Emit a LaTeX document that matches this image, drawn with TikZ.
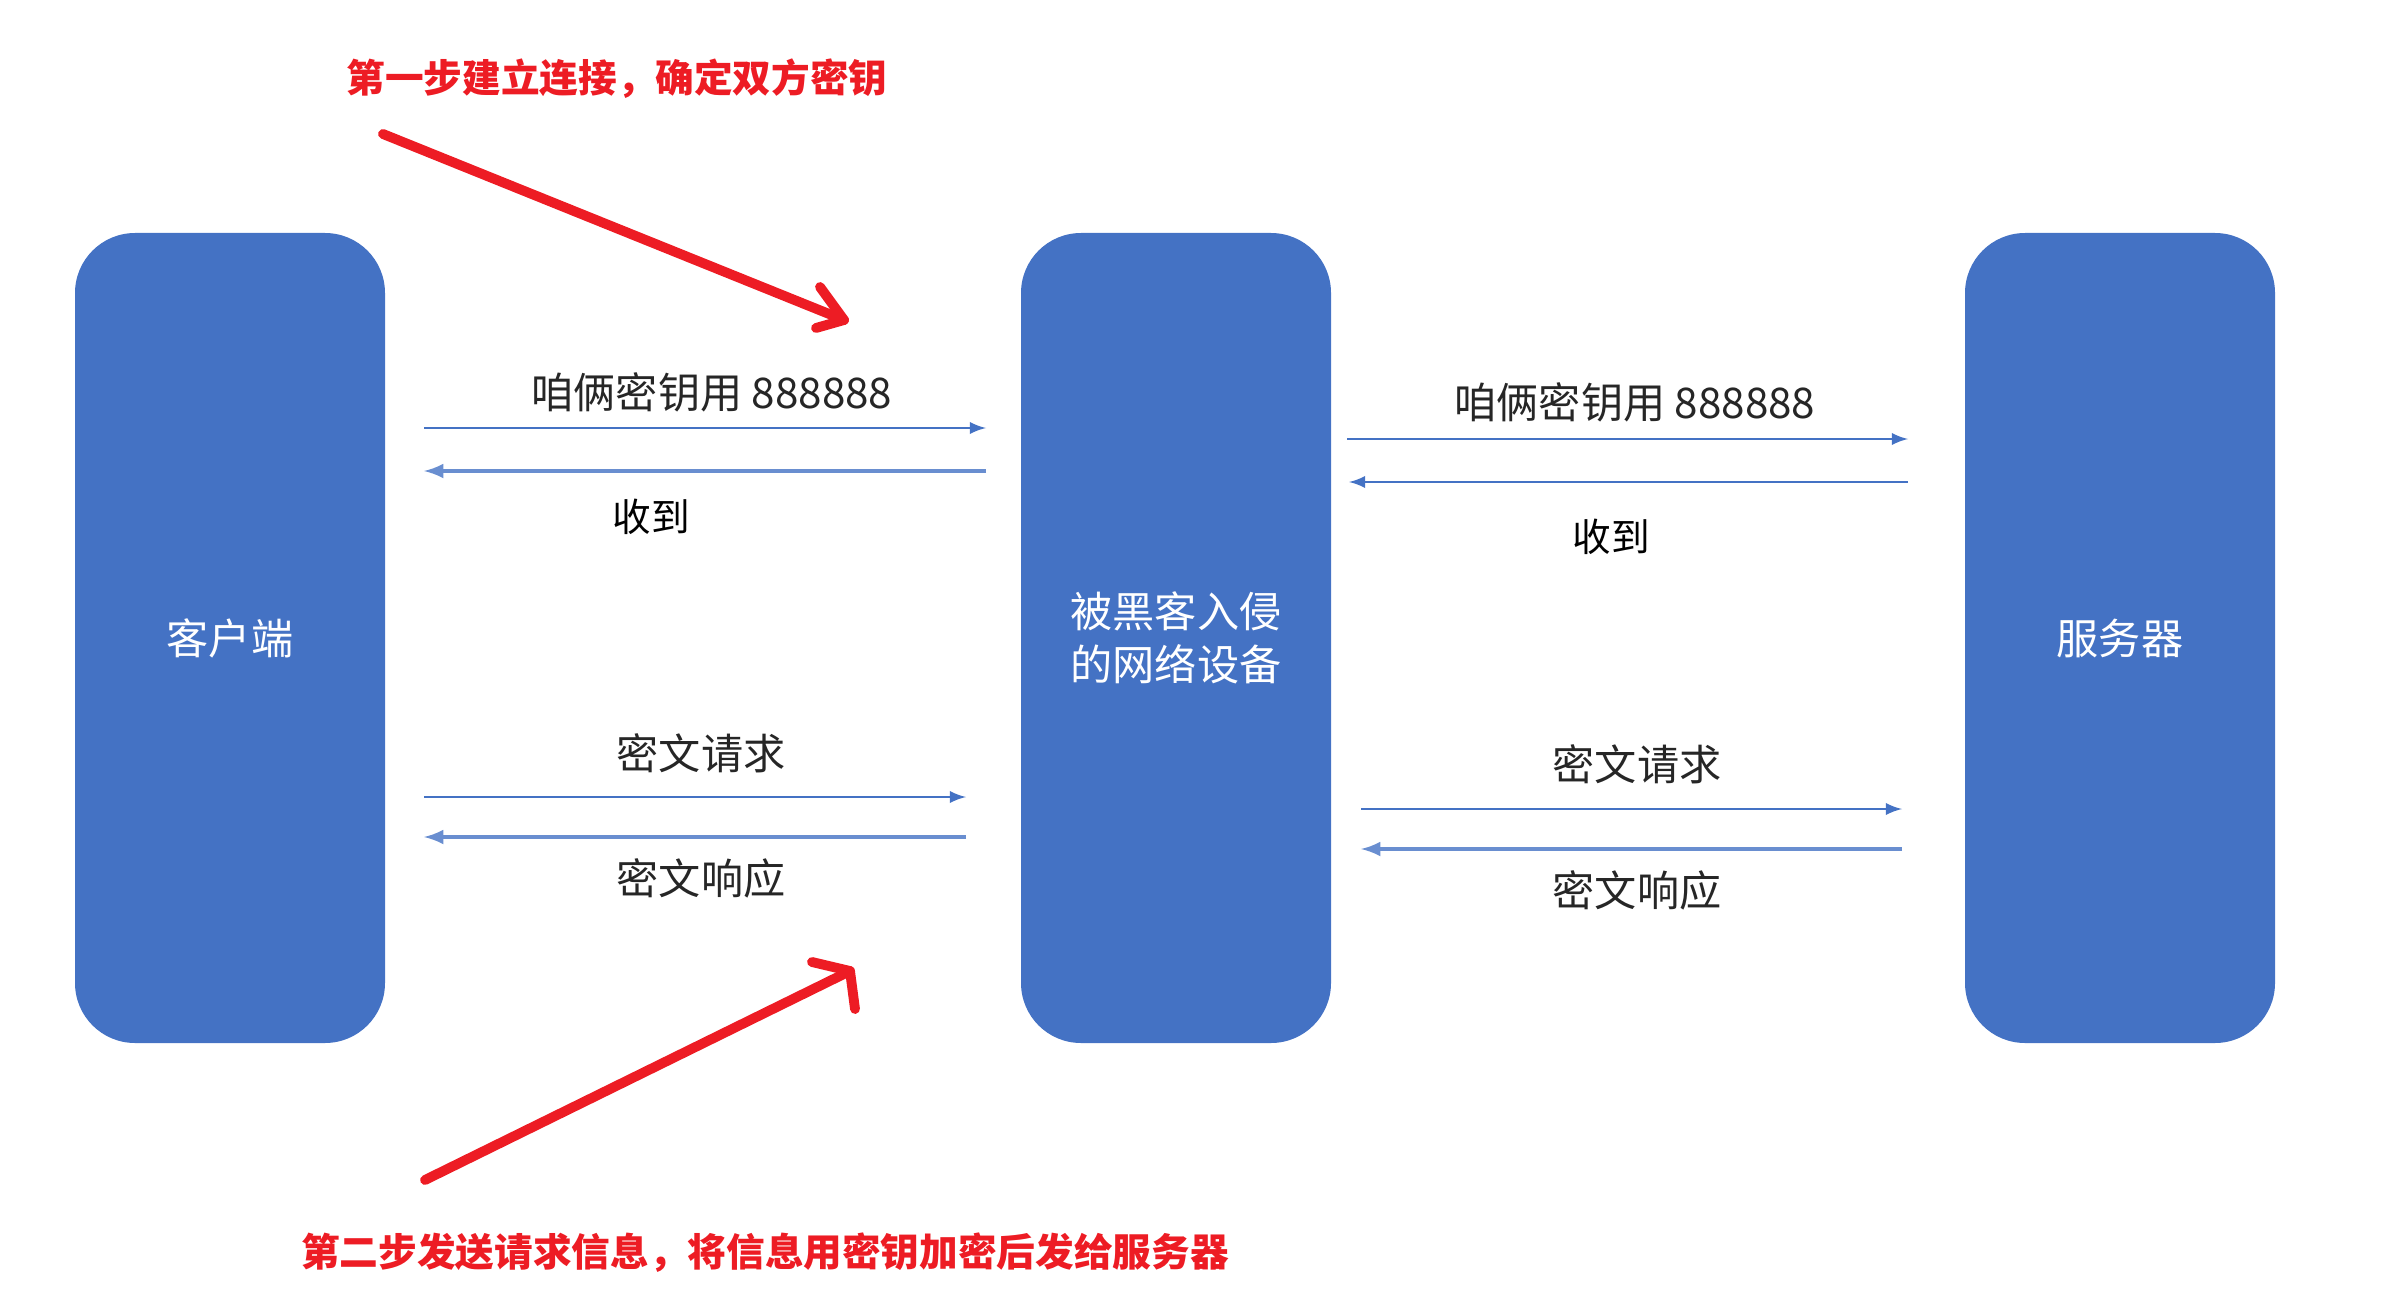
\documentclass[tikz,border=0pt]{standalone}
\usepackage{fontspec}
\setmainfont{Liberation Sans}
\newfontfamily\cjk{Noto Sans CJK SC}
\definecolor{boxblue}{HTML}{4472C4}
\definecolor{markred}{HTML}{ED1C24}

\begin{document}
\begin{tikzpicture}
        \tikzstyle{every node}+=[inner sep=0pt, font=\cjk]
        \tikzstyle{device}=[draw=none, fill=boxblue, rounded corners=0.6cm, minimum width=3.1cm, minimum height=8.1cm, text=white, align=center, font=\cjk\fontsize{12}{15}\selectfont]
        \tikzstyle{msg}=[text=black!85, font=\cjk\fontsize{12}{15}\selectfont]
        \tikzstyle{okmsg}=[text=black, font=\cjk\fontsize{11}{15}\selectfont]
        \tikzstyle{note}=[text=markred, font=\cjk\bfseries\fontsize{11}{13}\selectfont]
        \tikzstyle{flow}=[boxblue, line width=0.6pt, ->, >=latex]
        \tikzstyle{flowback}=[boxblue!80, line width=0.9pt, ->, >=latex]
        \tikzstyle{redmark}=[markred, line width=2.8pt, line cap=round, line join=round]
        \useasboundingbox (0,0) rectangle (23.9,-13.05);
        \node [device] (client) at (2.3,-6.38) {客户端};
        \node [device] (middle) at (11.76,-6.38) {被黑客入侵\\的网络设备};
        \node [device] (server) at (21.2,-6.38) {服务器};
        \node [note] (note1) at (6.17,-0.79) {第一步建立连接，确定双方密钥};
        \node [note] (note2) at (7.65,-12.53) {第二步发送请求信息，将信息用密钥加密后发给服务器};
        \node [msg] (keyl) at (7.12,-3.92) {咱俩密钥用 888888};
        \node [okmsg] (okl) at (6.51,-5.17) {收到};
        \node [msg] (reql) at (7.01,-7.53) {密文请求};
        \node [msg] (respl) at (7.01,-8.78) {密文响应};
        \node [msg] (keyr) at (16.35,-4.02) {咱俩密钥用 888888};
        \node [okmsg] (okr) at (16.11,-5.37) {收到};
        \node [msg] (reqr) at (16.37,-7.64) {密文请求};
        \node [msg] (respr) at (16.37,-8.9) {密文响应};
        \coordinate (la) at (4.24,-4.28);
        \coordinate (lb) at (9.86,-4.28);
        \coordinate (lc) at (4.24,-4.71);
        \coordinate (ld) at (9.86,-4.71);
        \coordinate (le) at (4.24,-7.97);
        \coordinate (lf) at (9.66,-7.97);
        \coordinate (lg) at (4.24,-8.37);
        \coordinate (lh) at (9.66,-8.37);
        \coordinate (ra) at (13.47,-4.39);
        \coordinate (rb) at (19.08,-4.39);
        \coordinate (rc) at (13.49,-4.82);
        \coordinate (rd) at (19.08,-4.82);
        \coordinate (re) at (13.61,-8.09);
        \coordinate (rf) at (19.02,-8.09);
        \coordinate (rg) at (13.61,-8.49);
        \coordinate (rh) at (19.02,-8.49);
        \draw [flow] (la) -- (lb);
        \draw [flowback] (ld) -- (lc);
        \draw [flow] (le) -- (lf);
        \draw [flowback] (lh) -- (lg);
        \draw [flow] (ra) -- (rb);
        \draw [flow] (rd) -- (rc);
        \draw [flow] (re) -- (rf);
        \draw [flowback] (rh) -- (rg);
        \coordinate (ma) at (3.83,-1.34);
        \coordinate (mb) at (8.44,-3.2);
        \coordinate (mc) at (8.2,-2.87);
        \coordinate (md) at (8.16,-3.28);
        \coordinate (me) at (4.25,-11.8);
        \coordinate (mf) at (8.5,-9.71);
        \coordinate (mg) at (8.12,-9.62);
        \coordinate (mh) at (8.55,-10.09);
        \draw [redmark] (ma) -- (mb);
        \draw [redmark] (mc) -- (mb) -- (md);
        \draw [redmark] (me) -- (mf);
        \draw [redmark] (mg) -- (mf) -- (mh);
\end{tikzpicture}
\end{document}
